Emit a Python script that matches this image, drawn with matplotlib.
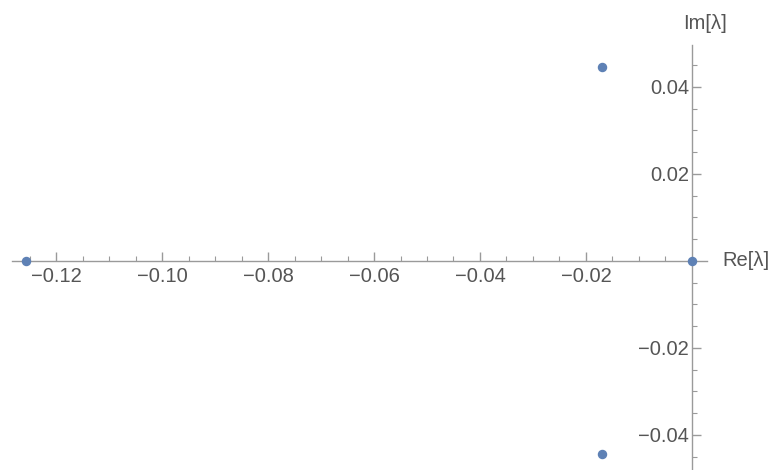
import numpy as np
import matplotlib.pyplot as plt
from matplotlib.ticker import FixedLocator

plt.rcParams["font.family"] = ["Liberation Sans", "DejaVu Sans"]

# eigenvalues in the complex plane
re_vals = [-0.1257, -0.0170, -0.0170, 0.0]
im_vals = [0.0, 0.0447, -0.0443, 0.0]

x_major = [-0.12, -0.10, -0.08, -0.06, -0.04, -0.02]
y_major = [-0.04, -0.02, 0.02, 0.04]

fig = plt.figure(figsize=(7.78, 4.70), dpi=100)
ax = fig.add_axes([0, 0, 1, 1])
ax.set_xlim(-0.13057, 0.01623)
ax.set_ylim(-0.04805, 0.06)

ax.plot(re_vals, im_vals, "o", color="#5e81b5", markersize=5.8, zorder=5,
        clip_on=False)

axis_col = "#9a9a9a"
lab_col = "#555555"
for s in ["top", "right"]:
    ax.spines[s].set_visible(False)
ax.spines["left"].set_position(("data", 0))
ax.spines["bottom"].set_position(("data", 0))
ax.spines["left"].set_bounds(-0.0481, 0.0497)
ax.spines["bottom"].set_bounds(-0.1283, 0.0028)
for s in ["left", "bottom"]:
    ax.spines[s].set_color(axis_col)
    ax.spines[s].set_linewidth(1.0)

# minor ticks every 0.005, only along the drawn part of each axis
x_minor = [k * 0.005 for k in range(-25, 0) if k % 4 != 0]
y_minor = [k * 0.005 for k in range(-9, 10) if k % 4 != 0]

ax.xaxis.set_major_locator(FixedLocator(x_major))
ax.yaxis.set_major_locator(FixedLocator(y_major))
ax.xaxis.set_minor_locator(FixedLocator(x_minor))
ax.yaxis.set_minor_locator(FixedLocator(y_minor))
ax.set_xticklabels([f"\u2212{abs(v):.2f}" for v in x_major])
ax.set_yticklabels([f"\u2212{abs(v):.2f}" if v < 0 else f"{v:.2f}" for v in y_major])

ax.tick_params(axis="both", which="major", direction="in", length=6.5,
               width=1.0, color=axis_col, labelcolor=lab_col, labelsize=14.5)
ax.tick_params(axis="both", which="minor", direction="in", length=3.5,
               width=0.8, color=axis_col)
ax.tick_params(axis="x", which="major", pad=4)
ax.tick_params(axis="y", which="major", pad=2)

ax.text(0.0058, 0.0, "Re[\u03bb]", ha="left", va="center", fontsize=14.5,
        color=lab_col)
ax.text(0.0025, 0.0545, "Im[\u03bb]", ha="center", va="center", fontsize=14.5,
        color=lab_col)

fig.savefig("out.png", dpi=100)
